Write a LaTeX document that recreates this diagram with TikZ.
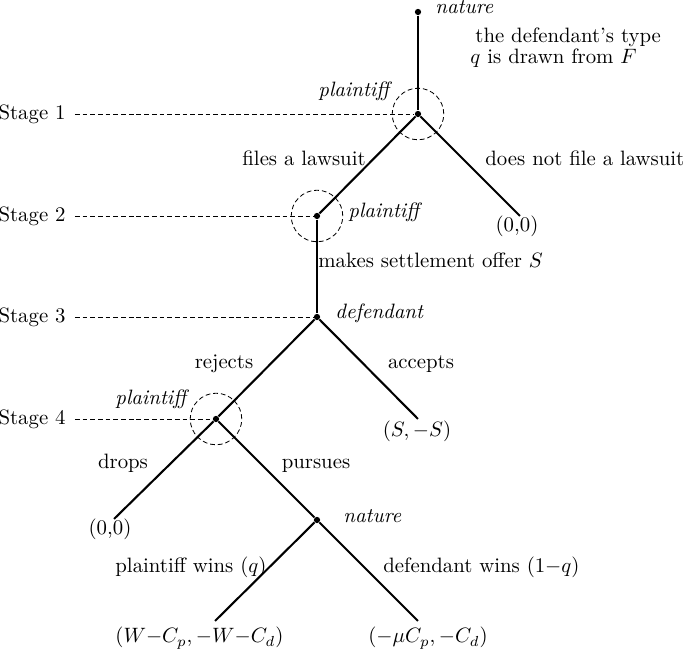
\documentclass[tikz,border=0pt]{standalone}
\begin{document}
\begin{tikzpicture}[x=0.481pt,y=-0.481pt,
  dotnode/.style={circle,fill=black,inner sep=0pt,minimum size=3pt},
  branch/.style={line width=1pt},
  guide/.style={line width=0.4pt,dash pattern=on 2.3pt off 1.4pt},
  ring/.style={circle,draw,line width=0.4pt,dash pattern=on 2.3pt off 1.4pt,minimum size=24.8pt,inner sep=0pt},
  lbl/.style={inner sep=0pt},
]
\useasboundingbox (0,0) rectangle (685,649);
% decision / chance nodes
\node[dotnode] (n0) at (418,12) {};
\node[dotnode] (n1) at (418,114) {};
\node[dotnode] (n2) at (317,216) {};
\node[dotnode] (n3) at (317,317) {};
\node[dotnode] (n4) at (216,419) {};
\node[dotnode] (n5) at (317,520) {};
% leaves
\coordinate (l1) at (520,216);
\coordinate (l3) at (418,419);
\coordinate (l4) at (114,519);
\coordinate (l5) at (215,621);
\coordinate (l6) at (418,621);
% branches
\draw[branch] (n0) -- (n1);
\draw[branch] (n1) -- (n2);
\draw[branch] (n1) -- (l1);
\draw[branch] (n2) -- (n3);
\draw[branch] (n3) -- (n4);
\draw[branch] (n3) -- (l3);
\draw[branch] (n4) -- (l4);
\draw[branch] (n4) -- (n5);
\draw[branch] (n5) -- (l5);
\draw[branch] (n5) -- (l6);
% rings
\node[ring] (r1) at (n1) {};
\node[ring] (r2) at (n2) {};
\node[ring] (r4) at (n4) {};
% stages
\node[lbl,anchor=east] (s1) at (66,114) {Stage 1};
\node[lbl,anchor=east] (s2) at (66,216) {Stage 2};
\node[lbl,anchor=east] (s3) at (66,317) {Stage 3};
\node[lbl,anchor=east] (s4) at (66,419) {Stage 4};
\draw[guide] ([xshift=4.3pt]s1.east) -- (n1);
\draw[guide] ([xshift=4.3pt]s2.east) -- (n2);
\draw[guide] ([xshift=4.3pt]s3.east) -- (n3);
\draw[guide] ([xshift=4.3pt]s4.east) -- (n4);
% player labels
\node[lbl,anchor=base west] (t0) at (435,14) {\textit{nature}};
\node[lbl,anchor=base west] (ta) at (475,43) {the defendant's type};
\node[lbl,anchor=base west] (tb) at (470,64) {$q$ is drawn from $F$};
\node[lbl,anchor=base west] (t1) at (318,97) {\textit{plaintiff}};
\node[lbl,anchor=base west] (t2) at (348,218) {\textit{plaintiff}};
\node[lbl,anchor=base west] (t3) at (335,319) {\textit{defendant}};
\node[lbl,anchor=base west] (t4) at (115,405) {\textit{plaintiff}};
\node[lbl,anchor=base west] (t5) at (343,523) {\textit{nature}};
% action labels
\node[lbl,anchor=base west] (a1) at (242,166) {files a lawsuit};
\node[lbl,anchor=base west] (a2) at (485,166) {does not file a lawsuit};
\node[lbl,anchor=base west] (a3) at (318,268) {makes settlement offer $S$};
\node[lbl,anchor=base] (a4) at (224,369) {rejects};
\node[lbl,anchor=base] (a5) at (421,369) {accepts};
\node[lbl,anchor=base] (a6) at (123,469) {drops};
\node[lbl,anchor=base] (a7) at (316,469) {pursues};
\node[lbl,anchor=base west] (a8) at (115,573) {plaintiff wins $(q)$};
\node[lbl,anchor=base west] (a9) at (383,573) {defendant wins $(1{-}q)$};
% payoffs
\node[lbl,anchor=base] (p1) at (517,232) {(0,0)};
\node[lbl,anchor=base] (p3) at (417,437) {$(S,{-}S)$};
\node[lbl,anchor=base] (p4) at (110,535) {(0,0)};
\node[lbl,anchor=base west] (p5) at (115,643) {$(W{-}C_p,{-}W{-}C_d)$};
\node[lbl,anchor=base west] (p6) at (368,643) {$({-}\mu C_p,{-}C_d)$};
\end{tikzpicture}
\end{document}
